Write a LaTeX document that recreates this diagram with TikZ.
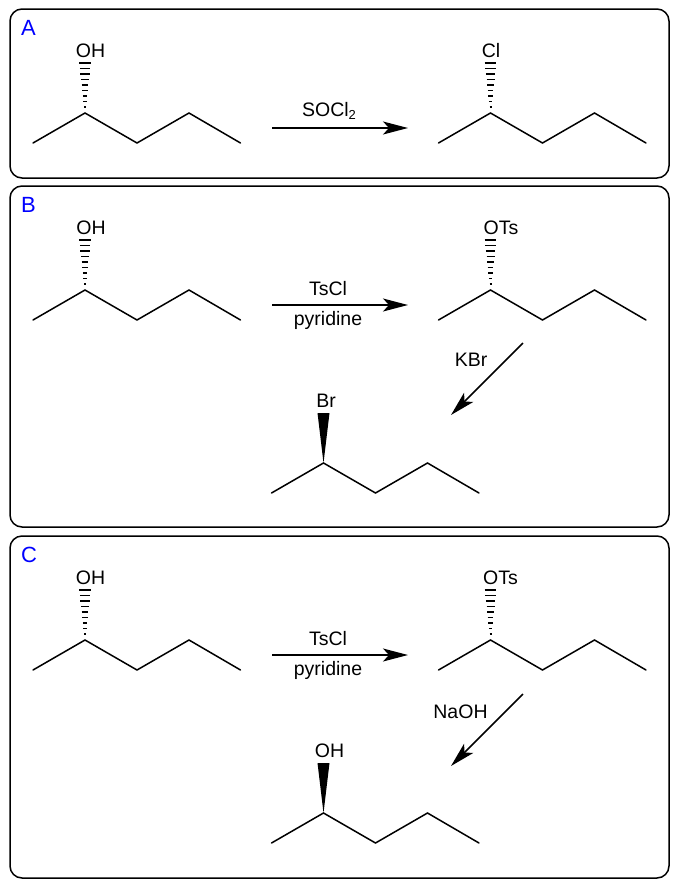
\documentclass[tikz,border=0pt]{standalone}
\usepackage{fontspec}
\setmainfont{Liberation Sans}
\usetikzlibrary{arrows.meta}
\tikzset{
  panel/.style={draw=black,line width=1.5pt,rounded corners=12pt,fill=white},
  bond/.style={draw=black,line width=1.5pt,line join=miter,line cap=round},
  rxn/.style={draw=black,line width=1.5pt,-{Stealth[length=25pt,width=13pt,inset=6pt]}},
  lbl/.style={anchor=base,inner sep=0pt,font=\fontsize{19.5}{19.5}\selectfont},
  tag/.style={anchor=base west,inner sep=0pt,text=blue,font=\fontsize{22}{22}\selectfont},
  hash/.style={draw=black,line width=1.5pt}
}
% #1 prefix, #2 x, #3 y (chiral centre)
\newcommand{\chain}[3]{
  \coordinate (#1c) at (#2,#3);
  \coordinate (#1a) at (#2-52,#3+30);
  \coordinate (#1d) at (#2+52,#3+30);
  \coordinate (#1e) at (#2+104,#3);
  \coordinate (#1f) at (#2+155.5,#3+30);
  \draw[bond] (#1a) -- (#1c) -- (#1d) -- (#1e) -- (#1f);
}
% hashed bond upward from the centre
\newcommand{\hashed}[3]{
  \foreach \yo/\hw in {6/1,11.5/1.6,17/2.2,22.5/2.8,28/3.4,33.5/4,39/4.6,44.5/5.2,50/5.8}{
    \draw[hash] (#2-\hw,#3-\yo) -- (#2+\hw,#3-\yo);
  }
}
\newcommand{\wedged}[3]{
  \coordinate (#1wl) at (#2-6,#3-50);
  \coordinate (#1wr) at (#2+6,#3-50);
  \fill[black] (#1c) -- (#1wl) -- (#1wr) -- cycle;
}
\begin{document}
\begin{tikzpicture}[x=1pt,y=-1pt]
\useasboundingbox (0,0) rectangle (679,887);
\draw[panel] (10,9) rectangle (669,178);
\draw[panel] (10,186) rectangle (669,527);
\draw[panel] (10,536) rectangle (669,878);
\node[tag] (ta) at (21,35) {A};
\node[tag] (tb) at (21,212) {B};
\node[tag] (tc) at (21,562) {C};
% Panel A
\chain{a1}{85}{113}\hashed{a1}{85}{113}
\chain{a2}{490.5}{113}\hashed{a2}{490.5}{113}
\node[lbl] (a1l) at (90.5,57.5) {OH};
\node[lbl] (a2l) at (491,57.5) {Cl};
\coordinate (a3s) at (272,128);
\coordinate (a3e) at (408,128);
\draw[rxn] (a3s) -- (a3e);
\node[lbl] (a3l) at (329,116) {SOCl\raisebox{-3.5pt}{\fontsize{13}{13}\selectfont 2}};
% Panel B
\chain{b1}{85}{290}\hashed{b1}{85}{290}
\chain{b2}{490.5}{290}\hashed{b2}{490.5}{290}
\chain{b3}{323.5}{463}\wedged{b3}{323.5}{463}
\node[lbl] (b1l) at (91,234.5) {OH};
\node[lbl] (b2l) at (501,234.5) {OTs};
\node[lbl] (b3l) at (326,407) {Br};
\coordinate (b4s) at (272,305);
\coordinate (b4e) at (408,305);
\draw[rxn] (b4s) -- (b4e);
\node[lbl] (b4a) at (328,295) {TsCl};
\node[lbl] (b4b) at (328,325.5) {pyridine};
\coordinate (b5s) at (523,343);
\coordinate (b5e) at (451,415);
\draw[rxn] (b5s) -- (b5e);
\node[lbl] (b5l) at (471,366.5) {KBr};
% Panel C
\chain{c1}{85}{640}\hashed{c1}{85}{640}
\chain{c2}{490.5}{640}\hashed{c2}{490.5}{640}
\chain{c3}{323.5}{813}\wedged{c3}{323.5}{813}
\node[lbl] (c1l) at (90.5,584.5) {OH};
\node[lbl] (c2l) at (500.5,584.5) {OTs};
\node[lbl] (c3l) at (329.5,757.5) {OH};
\coordinate (c4s) at (272,655);
\coordinate (c4e) at (408,655);
\draw[rxn] (c4s) -- (c4e);
\node[lbl] (c4a) at (328,645) {TsCl};
\node[lbl] (c4b) at (328,675.5) {pyridine};
\coordinate (c5s) at (523,694);
\coordinate (c5e) at (451,766);
\draw[rxn] (c5s) -- (c5e);
\node[lbl] (c5l) at (460.5,718.5) {NaOH};
\end{tikzpicture}
\end{document}
